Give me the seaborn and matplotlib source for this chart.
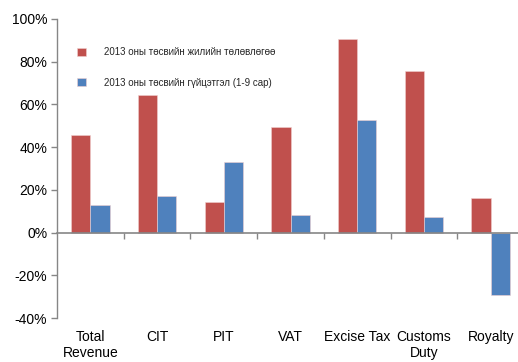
import matplotlib
matplotlib.use("Agg")
import matplotlib.pyplot as plt
import seaborn as sns
import pandas as pd
from matplotlib.ticker import PercentFormatter

categories = ["Total\nRevenue", "CIT", "PIT", "VAT", "Excise Tax", "Customs\nDuty", "Royalty"]
series_names = ["2013 оны төсвийн жилийн төлөвлөгөө", "2013 оны төсвийн гүйцэтгэл (1-9 сар)"]
plan_values = [45.9, 64.6, 14.5, 49.6, 90.8, 75.8, 16.2]
actual_values = [13.0, 16.9, 33.2, 8.0, 52.9, 7.3, -29.3]
y_ticks = [-40, -20, 0, 20, 40, 60, 80, 100]

df = pd.DataFrame({
    "category": categories * 2,
    "series": [series_names[0]] * len(categories) + [series_names[1]] * len(categories),
    "value": plan_values + actual_values,
})

sns.set_theme(style="white")
plt.rcParams["font.family"] = ["Liberation Sans", "DejaVu Sans"]
plt.rcParams["axes.unicode_minus"] = False

W, H = 518, 362
fig = plt.figure(figsize=(W / 100, H / 100), dpi=100)
ax = fig.add_axes([57 / W, 1 - 318 / H, (524 - 57) / W, (318 - 19) / H])

palette = {series_names[0]: "#C0504D", series_names[1]: "#4F81BD"}
sns.barplot(data=df, x="category", y="value", hue="series", order=categories,
            hue_order=series_names, palette=palette, width=0.575, saturation=1,
            edgecolor="#f0d0d0", linewidth=0.4, ax=ax)

ax.set_ylim(-40, 100)
ax.set_xlim(-0.5, len(categories) - 0.5)
ax.set_yticks(y_ticks)
ax.yaxis.set_major_formatter(PercentFormatter(decimals=0))
ax.set_xlabel("")
ax.set_ylabel("")

gray = "#868686"
for s in ["top", "right"]:
    ax.spines[s].set_visible(False)
ax.spines["left"].set_color(gray)
ax.spines["left"].set_linewidth(1.0)
ax.spines["bottom"].set_position(("data", 0))
ax.spines["bottom"].set_color(gray)
ax.spines["bottom"].set_linewidth(1.2)

ax.tick_params(axis="y", which="major", direction="out", length=4, width=1,
               color=gray, labelsize=10, labelcolor="black", pad=3, left=True)
ax.set_xticks([i + 0.5 for i in range(len(categories) - 1)], minor=True)
ax.tick_params(axis="x", which="minor", direction="out", length=4, width=1, color=gray, bottom=True)
ax_h_pt = (318 - 19) * 0.72
pad = ax_h_pt * 40 / 140 + 8.5
ax.tick_params(axis="x", which="major", length=0, labelsize=10, labelcolor="black", pad=pad)
for lbl in ax.get_xticklabels():
    lbl.set_verticalalignment("top")
    lbl.set_linespacing(1.2)

handles, labels = ax.get_legend_handles_labels()
ax.legend(handles, labels, loc="upper left", bbox_to_anchor=(0.025, 0.935),
          frameon=False, fontsize=7, handlelength=0.9, handleheight=0.9,
          handletextpad=1.8, labelspacing=2.1)

fig.savefig("out.png", dpi=100)
